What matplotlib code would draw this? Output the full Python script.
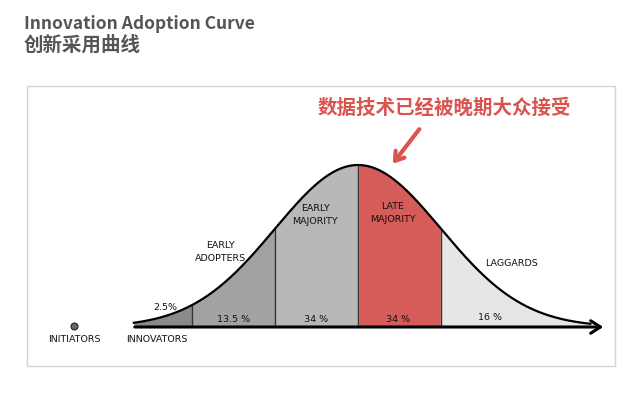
import numpy as np
import matplotlib.pyplot as plt
from matplotlib.patches import Rectangle

plt.rcParams['font.family'] = ['Noto Sans CJK SC', 'DejaVu Sans']

# segment edges in standard deviations from the mean
segment_edges = [-2.7, -2.0, -1.0, 0.0, 1.0, 2.8]
segment_names = ["INNOVATORS", "EARLY\nADOPTERS", "EARLY\nMAJORITY", "LATE\nMAJORITY", "LAGGARDS"]
segment_shares = ["2.5%", "13.5 %", "34 %", "34 %", "16 %"]
segment_colors = ["#8a8a8a", "#a2a2a2", "#b8b8b8", "#d65c59", "#e6e6e6"]

title_en = "Innovation Adoption Curve"
title_zh = "创新采用曲线"
note_zh = "数据技术已经被晚期大众接受"

# pixel mapping: x_px = 358 + 83*z, y_px = 327 - 162*h
W, H = 640, 397
cx, sx = 358, 83
by, sy = 327, 162


def px(x, y):
    return (x - cx) / sx, (by - y) / sy


fig = plt.figure(figsize=(6.4, 3.97), dpi=100)
ax = fig.add_axes([0, 0, 1, 1])
ax.set_xlim(px(0, 0)[0], px(W, 0)[0])
ax.set_ylim(px(0, H)[1], px(0, 0)[1])
ax.axis('off')

# panel frame
x0, y0 = px(27, 366)
x1, y1 = px(615, 86)
ax.add_patch(Rectangle((x0, y0), x1 - x0, y1 - y0, fill=False,
                       ec="#d4d4d4", lw=1.0))

z = np.linspace(segment_edges[0], segment_edges[-1], 600)
h = np.exp(-z ** 2 / 2)

for i in range(len(segment_colors)):
    m = (z >= segment_edges[i]) & (z <= segment_edges[i + 1])
    ax.fill_between(z[m], 0, h[m], color=segment_colors[i], lw=0)
    if 0 < i:
        e = segment_edges[i]
        ax.plot([e, e], [0, np.exp(-e ** 2 / 2)], color="#333333", lw=1.0)

ax.plot(z, h, color="black", lw=1.6)

# base axis with arrow
ax.annotate("", xy=px(606, 327), xytext=px(132, 327),
            arrowprops=dict(arrowstyle="->,head_length=0.7,head_width=0.45",
                            color="black", lw=2.2))

lab = dict(ha="center", va="center", fontsize=6.8, color="#111111",
           family=["DejaVu Sans"], linespacing=1.5)

# share labels
share_pos = [(165, 308), (234, 319), (316, 319), (398, 319), (490, 318)]
for s, p in zip(segment_shares, share_pos):
    ax.text(*px(*p), s, **lab)

# segment names
name_pos = [(157, 340), (220, 252), (315, 215), (393, 213), (511, 263)]
for s, p in zip(segment_names, name_pos):
    ax.text(*px(*p), s, **lab)

ax.text(*px(74, 340), "INITIATORS", **lab)
ax.plot(*px(74, 326), marker="o", ms=5, mfc="#666666", mec="#222222", mew=0.8)

# titles
ax.text(*px(24, 24), title_en, ha="left", va="center", fontsize=12.5,
        color="#555555", fontweight="bold")
ax.text(*px(24, 45), title_zh, ha="left", va="center", fontsize=14,
        color="#555555", fontweight="bold")

# red note and arrow
ax.text(*px(444, 108), note_zh, ha="center", va="center", fontsize=14,
        color="#d9534f", fontweight="bold")
ax.annotate("", xy=px(391, 166), xytext=px(421, 127),
            arrowprops=dict(arrowstyle="->,head_length=0.6,head_width=0.4",
                            color="#d9534f", lw=3))

fig.savefig("out.png", dpi=100)
